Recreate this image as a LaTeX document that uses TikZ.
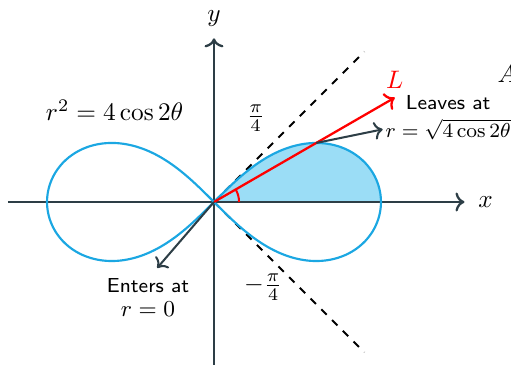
\documentclass[tikz,border=0pt]{standalone}
\usepackage{amsmath,amssymb}
\usepackage{xcolor}
\definecolor{axisslate}{RGB}{45,62,70}
\definecolor{loopblue}{RGB}{27,167,226}
\definecolor{loopfill}{RGB}{155,221,246}
\usepackage{tikz}
\usetikzlibrary{arrows.meta,positioning,calc}

\begin{document}
\begin{tikzpicture}[
  x=1.16cm, y=1.16cm,
  axis/.style={->, line width=0.9pt, draw=axisslate},
  loop/.style={line width=0.85pt, draw=loopblue},
  guide/.style={dashed, line width=0.8pt},
  ptr/.style={->, line width=0.8pt, draw=axisslate},
  note/.style={font=\footnotesize\sffamily, align=center, inner sep=1pt}
]
\useasboundingbox (-2.563,-1.976) rectangle (3.557,2.419);
\coordinate (o) at (0,0);
% shaded upper half of the right loop
\fill[loopfill] plot[domain=0:90, samples=80]
  ({2*cos(\x)/(1+sin(\x)^2)}, {2*sin(\x)*cos(\x)/(1+sin(\x)^2)}) -- cycle;
% axes
\coordinate (xs) at (-2.47,0);
\coordinate (xe) at (3.0,0);
\coordinate (ys) at (0,-1.95);
\coordinate (ye) at (0,1.96);
\draw[axis] (xs) -- (xe);
\draw[axis] (ys) -- (ye);
\node[right=2pt of xe] (xlbl) {$x$};
\node[above=1pt of ye] (ylbl) {$y$};
% asymptote lines
\coordinate (dp) at (1.8,1.8);
\coordinate (dm) at (1.8,-1.8);
\draw[guide] (o) -- (dp);
\draw[guide] (o) -- (dm);
% lemniscate
\draw[loop] plot[domain=0:360, samples=241]
  ({2*cos(\x)/(1+sin(\x)^2)}, {2*sin(\x)*cos(\x)/(1+sin(\x)^2)});
% ray L
\coordinate (lend) at (30:2.5);
\draw[->, red, line width=0.9pt] (o) -- (lend);
\draw[red, line width=0.8pt] (0.3,0) arc (0:30:0.3);
\node[red, above=0pt of lend] (lbl) {$L$};
% labels
\node (eqn) at (-1.19,1.10) {$r^2=4\cos 2\theta$};
\node (qp) at (0.5,1.0) {$\frac{\pi}{4}$};
\node (qm) at (0.59,-1.02) {$-\frac{\pi}{4}$};
\node (atxt) at (3.51,1.53) {$A$};
% leaves
\coordinate (p) at (30:1.4142);
\node[anchor=west, inner sep=1pt] (lvmath) at (2.02,0.87) {\footnotesize$r=\sqrt{4\cos 2\theta}$};
\node[note, above=1pt of lvmath] (lvtxt) {Leaves at};
\draw[ptr] (p) -- (lvmath.west);
% enters
\coordinate (ein) at (-0.68,-0.79);
\draw[ptr] (o) -- (ein);
\node[note] (entxt) at (-0.79,-1.14) {Enters at\\ \small$r=0$};
\end{tikzpicture}
\end{document}
